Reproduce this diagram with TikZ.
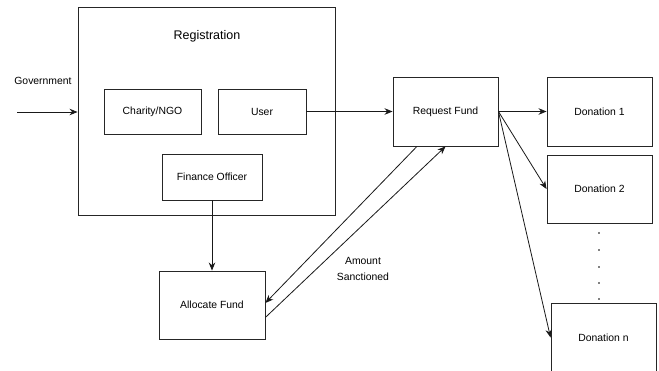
\documentclass[tikz,border=0pt]{standalone}
\usepackage{fontspec}
\setmainfont{Liberation Sans}
\usetikzlibrary{arrows.meta,calc}
\begin{document}
\begin{tikzpicture}[x=1pt,y=-1pt,
  box/.style={draw=black!85,line width=0.9pt,inner sep=0pt,font=\fontsize{10.4}{12}\selectfont},
  conn/.style={line width=0.8pt,draw=black!90},
  arr/.style={conn,-{Stealth[length=8pt,width=6.5pt]}},
  lbl/.style={font=\fontsize{10.4}{15.5}\selectfont,align=center,inner sep=0pt}]
\useasboundingbox[fill=white] (0,0) rectangle (659,370);
% boxes
\node[box,minimum width=257pt,minimum height=208pt] (reg) at (206.5,111) {};
\node[lbl,font=\fontsize{12.5}{14}\selectfont] (regt) at (207,36) {Registration};
\node[box,minimum width=97pt,minimum height=45pt] (ngo) at (152.5,111.5) {Charity/NGO};
\node[box,minimum width=88pt,minimum height=45pt] (user) at (262,111.5) {User};
\node[box,minimum width=100pt,minimum height=46pt] (fin) at (212,177) {Finance Officer};
\node[box,minimum width=106pt,minimum height=68pt] (alloc) at (212,305) {Allocate Fund};
\node[box,minimum width=105pt,minimum height=69pt] (req) at (445.5,111.5) {Request Fund};
\node[box,minimum width=105pt,minimum height=69pt] (d1) at (599.5,111.5) {Donation 1};
\node[box,minimum width=105pt,minimum height=68pt] (d2) at (599.5,189) {Donation 2};
\node[box,minimum width=105pt,minimum height=69pt] (dn) at (603.5,337.5) {Donation n};
% labels
\node[lbl] (gov) at (43,81) {Government};
\node[lbl] (amt) at (363,269) {Amount\\Sanctioned};
% dots
\foreach \yy in {233,250,267,283,299}
  \fill (599,\yy) circle (0.8pt);
% connectors
\coordinate (gstart) at (17,112);
\draw[arr] (gstart) -- (reg.west |- gstart);
\draw[arr] (user.east) -- (req.west);
\draw[arr] (fin.south) -- (alloc.north);
\draw[arr] (req.east) -- (d1.west);
\draw[arr] (req.east) -- (d2.west);
\draw[arr] (req.east) -- (dn.west);
\coordinate (ra) at ($(req.south west)!0.23!(req.south east)$);
\coordinate (aa) at ($(alloc.north east)!0.47!(alloc.south east)$);
\coordinate (ab) at ($(alloc.north east)!0.68!(alloc.south east)$);
\draw[arr] (ra) -- (aa);
\draw[arr] (ab) -- (req.south);
\end{tikzpicture}
\end{document}
